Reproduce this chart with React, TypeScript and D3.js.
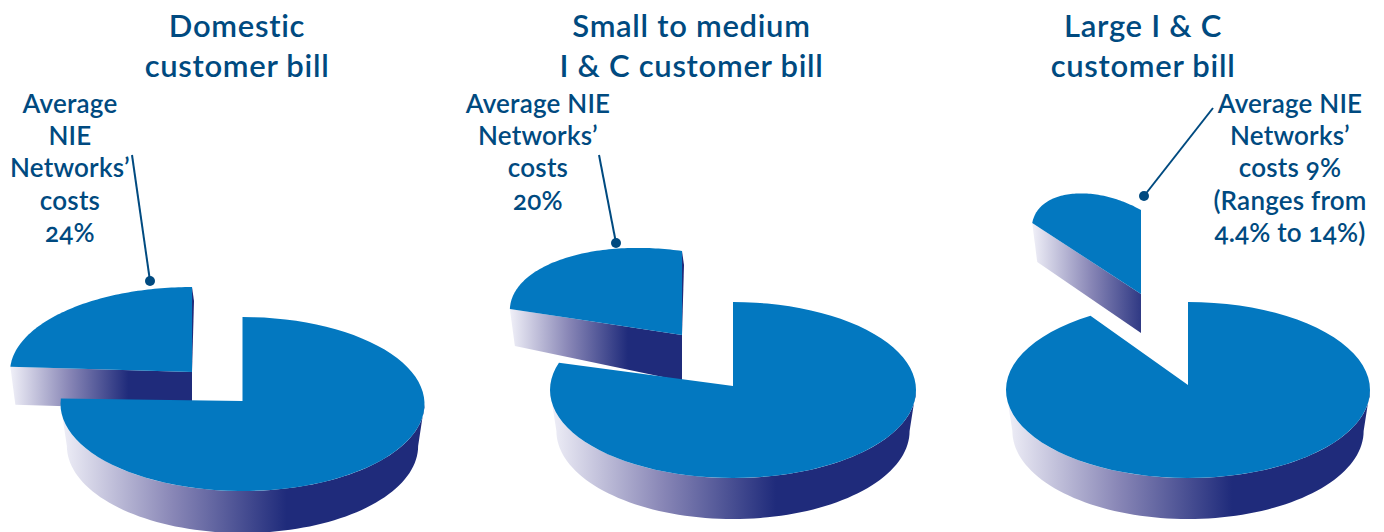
import React from "react";
import * as d3 from "d3";

// Bill composition per customer class
const titles = [
  ["Domestic", "customer bill"],
  ["Small to medium", "I & C customer bill"],
  ["Large I & C", "customer bill"],
];
const networkCostShare = [24, 20, 9];
const calloutLines = [
  ["Average", "NIE", "Networks’", "costs", "24%"],
  ["Average NIE", "Networks’", "costs", "20%"],
  ["Average NIE", "Networks’", "costs 9%", "(Ranges from", "4.4% to 14%)"],
];

// Page geometry of each drawing
const layouts = [
  {
    titleX: 237, labelX: 70,
    main: { cx: 242.5, cy: 404, apexY: 401, rx: 182, ry: 87, depth: 42 },
    slice: { cx: 192, cy: 372, rx: 182, ry: 85, depth: 38, apexDepth: 38, bulge: 0, sliver: 2 },
    leader: [[132, 155], [150, 281]],
  },
  {
    titleX: 691.5, labelX: 538,
    main: { cx: 733, cy: 390, apexY: 386, rx: 183, ry: 88, depth: 41 },
    slice: { cx: 682, cy: 335, rx: 181, ry: 84, depth: 37, apexDepth: 46, bulge: 0.12, sliver: 2 },
    leader: [[599, 155], [616, 243]],
  },
  {
    titleX: 1143, labelX: 1290,
    main: { cx: 1188, cy: 390, apexY: 385, rx: 182, ry: 88, depth: 41 },
    slice: { cx: 1141, cy: 294, rx: 203, ry: 84, depth: 39, apexDepth: 39, bulge: 0.24, sliver: 0 },
    leader: [[1213, 108], [1144, 196]],
  },
];

const TOP = "#0378c0";
const NAVY = "#1f2b7b";
const MID = "#8886b6";
const PALE = "#f0f0f8";
const INK = "#004a80";
const FONT = "Lato, 'Noto Sans', sans-serif";

const TITLE_BASE = 37;
const TITLE_STEP = 40;
const LABEL_BASE = 113;
const LABEL_STEP = 32.2;
const SAMPLES = 80;
const WALL_INSET = 0.965;
const MAIN_RAMP = 226;
const SLICE_RAMP = 118;

type Pt = [number, number];
const line = d3.line<Pt>();

// Shares run counter-clockwise from twelve o'clock
const shareArcs = (share: number) =>
  d3.pie<number>().sort(null).startAngle(0).endAngle(-2 * Math.PI)([share, 100 - share]);

const rim = (cx: number, cy: number, rx: number, ry: number, t: number): Pt => [
  cx + rx * Math.sin(t),
  cy - ry * Math.cos(t),
];

const sweep = (a: number, b: number) =>
  d3.range(SAMPLES + 1).map((i) => a + ((b - a) * i) / SAMPLES);

function WallRamp({ id, from, length }: { id: string; from: number; length: number }) {
  return (
    <linearGradient id={id} gradientUnits="userSpaceOnUse" x1={from} x2={from + length} y1={0} y2={0}>
      <stop offset="0" stopColor={PALE} />
      <stop offset="0.5" stopColor={MID} />
      <stop offset="1" stopColor={NAVY} />
    </linearGradient>
  );
}

function Disc({ index }: { index: number }) {
  const share = networkCostShare[index];
  const { main, slice } = layouts[index];
  const [costArc, restArc] = shareArcs(share);

  // Main body: everything but the network share
  const mainTop = [
    [main.cx, main.apexY] as Pt,
    ...sweep(restArc.startAngle, restArc.endAngle).map((t) => rim(main.cx, main.cy, main.rx, main.ry, t)),
  ];
  const wallAngles = sweep(Math.min(restArc.startAngle, -Math.PI / 2), -1.5 * Math.PI);
  const mainWall = [
    ...wallAngles.map((t) => rim(main.cx, main.cy, main.rx, main.ry, t)),
    ...wallAngles
      .slice()
      .reverse()
      .map((t) => rim(main.cx, main.cy + main.depth, main.rx * WALL_INSET, main.ry, t)),
  ];

  // Detached wedge for the network share
  const span = costArc.endAngle - costArc.startAngle;
  const wedgeRim = sweep(costArc.startAngle, costArc.endAngle).map((t) => {
    const u = (t - costArc.startAngle) / span;
    const k = 1 + slice.bulge * Math.sin(Math.PI * u);
    return rim(slice.cx, slice.cy, slice.rx * k, slice.ry * k, t);
  });
  const apex: Pt = [slice.cx, slice.cy];
  const far = wedgeRim[wedgeRim.length - 1];
  const near = wedgeRim[0];
  const wedgeWall: Pt[] = [
    apex,
    far,
    [far[0] + 5, far[1] + slice.depth],
    [apex[0], apex[1] + slice.apexDepth],
  ];
  const sliver: Pt[] = [near, [near[0] + slice.sliver, near[1] + 14], apex];

  return (
    <g>
      <defs>
        <WallRamp id={`wall-main-${index}`} from={main.cx - main.rx} length={MAIN_RAMP} />
        <WallRamp id={`wall-slice-${index}`} from={far[0]} length={SLICE_RAMP} />
      </defs>
      <path d={line(wedgeWall) + "Z"} fill={`url(#wall-slice-${index})`} />
      {slice.sliver > 0 && <path d={line(sliver) + "Z"} fill={NAVY} />}
      <path d={line([apex, ...wedgeRim]) + "Z"} fill={TOP} />
      <path d={line(mainWall) + "Z"} fill={`url(#wall-main-${index})`} />
      <path d={line(mainTop) + "Z"} fill={TOP} />
    </g>
  );
}

function Callout({ index }: { index: number }) {
  const { leader, labelX } = layouts[index];
  return (
    <g>
      <path d={line(leader as Pt[]) ?? ""} stroke={INK} strokeWidth={2} fill="none" />
      <circle cx={leader[1][0]} cy={leader[1][1]} r={5} fill={INK} />
      <text
        textAnchor="middle"
        fontFamily={FONT}
        fontWeight={600}
        fontSize={26}
        letterSpacing={0.2}
        fill={INK}
        style={{ fontFeatureSettings: "'onum'" }}
      >
        {calloutLines[index].map((s, i) => (
          <tspan key={i} x={labelX} y={LABEL_BASE + i * LABEL_STEP}>
            {s}
          </tspan>
        ))}
      </text>
    </g>
  );
}

export default function App() {
  return (
    <svg width={1384} height={532} style={{ position: "absolute", left: 0, top: 0, background: "#fff" }}>
      {titles.map((lines, i) => (
        <text key={i} textAnchor="middle" fontFamily={FONT} fontWeight={600} fontSize={31} letterSpacing={0.7} fill={INK}>
          {lines.map((s, j) => (
            <tspan key={j} x={layouts[i].titleX} y={TITLE_BASE + j * TITLE_STEP}>
              {s}
            </tspan>
          ))}
        </text>
      ))}
      {networkCostShare.map((_, i) => (
        <g key={i}>
          <Disc index={i} />
          <Callout index={i} />
        </g>
      ))}
    </svg>
  );
}
